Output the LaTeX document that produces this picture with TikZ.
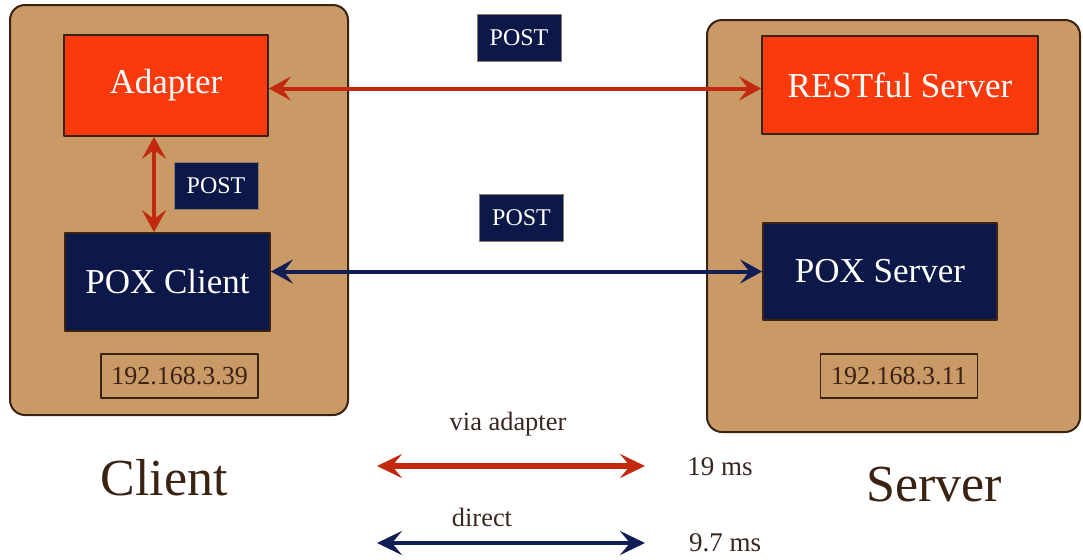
\documentclass[tikz,border=0pt]{standalone}
\usepackage{fontspec}
\setmainfont{Liberation Serif}
\usetikzlibrary{arrows.meta,positioning}
\definecolor{pxTan}{HTML}{C99A66}
\definecolor{pxBrown}{HTML}{3B2314}
\definecolor{pxRed}{HTML}{FA3A0C}
\definecolor{pxNavy}{HTML}{0C1848}
\definecolor{pxArrRed}{HTML}{C3290F}
\definecolor{pxArrBlue}{HTML}{111D55}
\definecolor{pxInk}{HTML}{3A2620}
\tikzset{
 lab/.style={line cap=round,line join=round},
 panel/.style={draw=pxBrown,fill=pxTan,line width=1pt,rounded corners=7.5pt,inner sep=0pt},
 redbox/.style={draw=pxBrown,fill=pxRed,line width=.9pt,text=white,
   font=\fontsize{17.5}{20}\selectfont,inner sep=0pt},
 navybox/.style={redbox,fill=pxNavy},
 posttag/.style={fill=pxNavy,draw=pxBrown!60,line width=.4pt,text=white,
   font=\fontsize{12}{14}\selectfont,minimum width=42pt,minimum height=23.5pt,inner sep=0pt},
 ipbox/.style={draw=pxBrown,line width=.6pt,text=pxBrown,font=\fontsize{13}{15}\selectfont,
   minimum width=78.5pt,minimum height=22pt,inner sep=0pt},
 hosttitle/.style={text=pxBrown,font=\fontsize{26}{30}\selectfont},
 caption/.style={text=pxInk,font=\fontsize{13.2}{15}\selectfont},
 redlink/.style={draw=pxArrRed,line width=2pt,line cap=butt,
   {Stealth[length=11pt,width=12pt,inset=4.5pt]}-{Stealth[length=11pt,width=12pt,inset=4.5pt]}},
 bluelink/.style={redlink,draw=pxArrBlue},
 redkey/.style={draw=pxArrRed,line width=2.8pt,line cap=butt,
   {Stealth[length=12.5pt,width=12pt,inset=5pt]}-{Stealth[length=12.5pt,width=12pt,inset=5pt]}},
 bluekey/.style={redkey,draw=pxArrBlue,line width=2.4pt}
}

\begin{document}
\begin{tikzpicture}[lab,x=.5pt,y=-.5pt]
 \useasboundingbox (0,0) rectangle (1083,559);
 % hosts
 \node[panel,minimum width=169pt,minimum height=205pt] (client) at (179,210) {};
 \node[panel,minimum width=186.5pt,minimum height=206pt] (server) at (893.5,226) {};
 % client side
 \node[redbox,minimum width=102pt,minimum height=50.5pt] (adapter) at (166,85.5) {Adapter};
 \node[navybox,minimum width=102.5pt,minimum height=49pt] (poxclient) at (167.5,282) {POX Client};
 \node[posttag] (postin) at (216,186) {POST};
 \node[ipbox] (ipclient) at (179.5,376) {192.168.3.39};
 % server side
 \node[redbox,minimum width=138pt,minimum height=49pt] (restful) at (900,85) {RESTful Server};
 \node[navybox,minimum width=117pt,minimum height=48.5pt] (poxserver) at (880,271.5) {POX Server};
 \node[ipbox] (ipserver) at (899,376) {192.168.3.11};
 % requests
 \node[posttag] (posttop) at (519,37.5) {POST};
 \node[posttag] (postmid) at (521.5,217.5) {POST};
 \draw[redlink] ([yshift=-1.5pt]adapter.east) -- ([yshift=-1.5pt]restful.west |- adapter.east);
 \draw[bluelink] (poxclient.east |- poxserver.west) -- (poxserver.west);
 \draw[redlink] ([xshift=-6pt]adapter.south) -- ([xshift=-6pt]adapter.south |- poxclient.north);
 % legend
 \node[hosttitle] (clientname) at (164,478) {Client};
 \node[hosttitle] (servername) at (934,485) {Server};
 \node[caption] (viaadapter) at (508,424) {via adapter};
 \node[caption] (direct) at (482,517) {direct};
 \coordinate (va-l) at (377,466); \coordinate (va-r) at (645,466);
 \coordinate (di-l) at (377,543); \coordinate (di-r) at (645,543);
 \draw[redkey] (va-l) -- (va-r);
 \draw[bluekey] (di-l) -- (di-r);
 \node[caption,font=\fontsize{13.5}{15}\selectfont] (slow) at (720,467) {19 ms};
 \node[caption,font=\fontsize{13.5}{15}\selectfont] (fast) at (725,543) {9.7 ms};
\end{tikzpicture}
\end{document}
